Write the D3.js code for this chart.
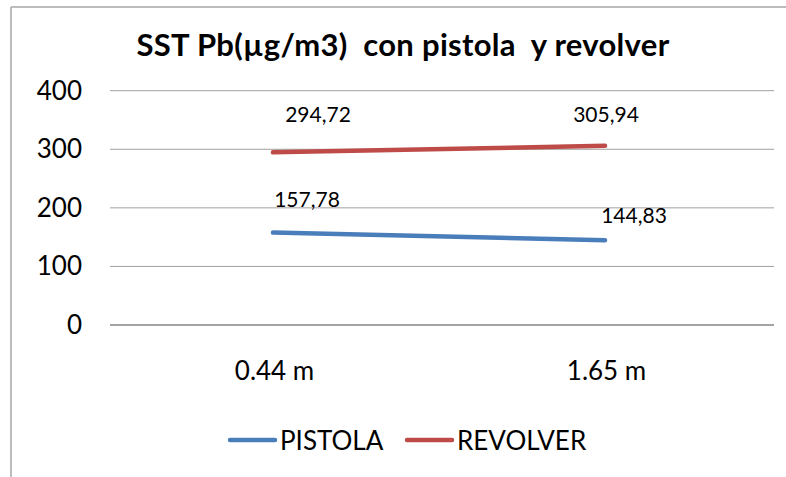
<!DOCTYPE html>
<html>
<head>
<meta charset="utf-8">
<script src="https://cdn.jsdelivr.net/npm/d3@7"></script>
<style>
  body { margin: 0; background: #fff; }
  text { font-family: Lato, "Open Sans", sans-serif; fill: #000; }
</style>
</head>
<body>
<div id="chart"></div>
<script>
// chart data
var categories = ["0.44 m", "1.65 m"];
var pistola = [157.78, 144.83];
var revolver = [294.72, 305.94];
var seriesNames = ["PISTOLA", "REVOLVER"];
var yTicks = [0, 100, 200, 300, 400];

var width = 786, height = 477;
var colors = ["#4A7EBB", "#BE4B48"];

var svg = d3.select("#chart").append("svg")
	.attr("width", width)
	.attr("height", height);

// outer frame (only top and left visible)
svg.append("line").attr("x1", 11).attr("y1", 7).attr("x2", width).attr("y2", 7)
	.attr("stroke", "#a6a6a6").attr("stroke-width", 1.5);
svg.append("line").attr("x1", 11).attr("y1", 7).attr("x2", 11).attr("y2", height)
	.attr("stroke", "#a6a6a6").attr("stroke-width", 1.5);

svg.append("text")
	.attr("x", 403).attr("y", 56)
	.attr("text-anchor", "middle")
	.style("font-size", "31px")
	.style("font-weight", "bold")
	.style("white-space", "pre")
	.style("letter-spacing", "0.3px")
	.text("SST Pb(\u00b5g/m3)  con pistola  y revolver");

var x = d3.scalePoint().domain(categories).range([110, 774]).padding(0.5);
var y = d3.scaleLinear().domain([0, 400]).range([325, 90.7]);

// gridlines
svg.append("g").selectAll("line")
	.data(yTicks)
	.enter().append("line")
	.attr("x1", 110).attr("x2", 774)
	.attr("y1", function(d){return y(d);})
	.attr("y2", function(d){return y(d);})
	.attr("stroke", function(d){return d == 0 ? "#868686" : "#a0a0a0";})
	.attr("stroke-width", function(d){return d == 0 ? 1.5 : 1;});

// y axis labels
var yAxis = d3.axisLeft(y).tickValues(yTicks).tickSize(0).tickPadding(0);
var ya = svg.append("g").attr("transform", "translate(82,0)").call(yAxis);
ya.select(".domain").remove();
ya.selectAll("text").style("font-size", "26px").style("font-family", "Lato, sans-serif").attr("fill", "#000");

// x axis labels
var xAxis = d3.axisBottom(x).tickSize(0).tickPadding(0);
var xa = svg.append("g").attr("transform", "translate(-2,362)").call(xAxis);
xa.select(".domain").remove();
xa.selectAll("text").style("font-size", "26px").style("font-family", "Lato, sans-serif").attr("fill", "#000");

var series = [pistola, revolver];
var line = d3.line()
	.x(function(d, i){return x(categories[i]) - 3;})
	.y(function(d){return y(d);});

series.forEach(function(vals, s){
	svg.append("path")
		.attr("d", line(vals))
		.attr("fill", "none")
		.attr("stroke", colors[s])
		.attr("stroke-width", 4.5)
		.attr("stroke-linecap", "round");
});

// data labels, nudged like the original
var labelOffsets = [[[34, -26], [29, -17]], [[45, -30], [1, -24]]];
series.forEach(function(vals, s){
	svg.append("g").selectAll("text")
		.data(vals)
		.enter().append("text")
		.attr("x", function(d, i){return x(categories[i]) - 3 + labelOffsets[s][i][0];})
		.attr("y", function(d, i){return y(d) + labelOffsets[s][i][1];})
		.attr("text-anchor", "middle")
		.style("font-size", "21px")
		.text(function(d){return d3.format(".2f")(d).replace(".", ",");});
});

// legend
var legendX = [230, 407];
seriesNames.forEach(function(name, s){
	svg.append("line")
		.attr("x1", legendX[s]).attr("x2", legendX[s] + 45)
		.attr("y1", 440).attr("y2", 440)
		.attr("stroke", colors[s])
		.attr("stroke-width", 4.5)
		.attr("stroke-linecap", "round");
	svg.append("text")
		.attr("x", legendX[s] + 50).attr("y", 450)
		.style("font-size", "26px")
		.text(name);
});
</script>
</body>
</html>
